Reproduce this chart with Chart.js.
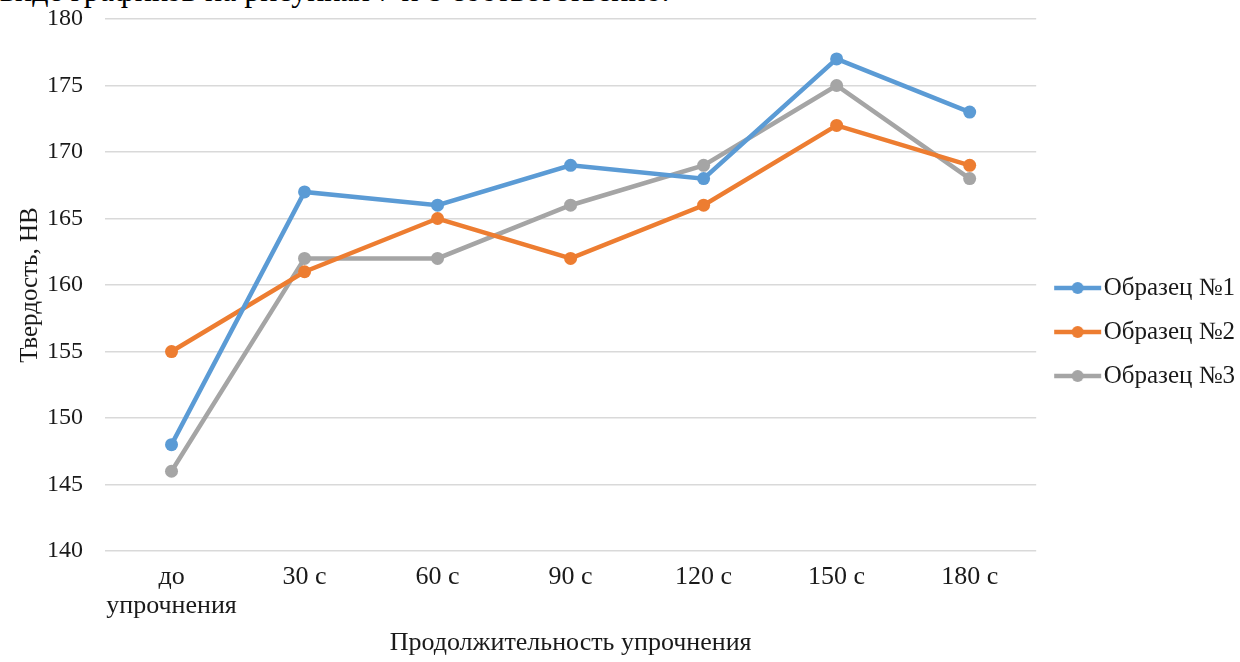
<!DOCTYPE html>
<html>
<head>
<meta charset="utf-8">
<script src="https://cdn.jsdelivr.net/npm/chart.js@4"></script>
<style>
  html, body { margin: 0; padding: 0; background: #fff; overflow: hidden; }
  #wrap { position: absolute; left: 0; top: 0; width: 1240px; height: 662px; }
  #cut { position: absolute; left: 0; top: -28px; font-family: 'Liberation Serif', serif; font-size: 32px; color: #000; white-space: nowrap; }
</style>
</head>
<body>
<div id="cut">виде графиков на рисунках 7 и 8 соответственно.</div>
<div id="wrap"><canvas id="chart"></canvas></div>
<script>
// Data
const categories = [['до', 'упрочнения'], '30 с', '60 с', '90 с', '120 с', '150 с', '180 с'];
const sample1 = [148, 167, 166, 169, 168, 177, 173];
const sample2 = [155, 161, 165, 162, 166, 172, 169];
const sample3 = [146, 162, 162, 166, 169, 175, 168];
const seriesNames = ['Образец №1', 'Образец №2', 'Образец №3'];
const colors = ['#5B9BD5', '#ED7D31', '#A5A5A5'];

Chart.defaults.font.family = "'Liberation Serif', 'Times New Roman', serif";
Chart.defaults.color = '#1a1a1a';

// legend marker: line with a dot, drawn a bit left of the box centre
function legendMarker(color) {
    const c = document.createElement('canvas');
    c.width = 60;
    c.height = 14;
    const ctx = c.getContext('2d');
    ctx.strokeStyle = color;
    ctx.lineWidth = 4.5;
    ctx.beginPath();
    ctx.moveTo(11, 7);
    ctx.lineTo(58, 7);
    ctx.stroke();
    ctx.fillStyle = color;
    ctx.beginPath();
    ctx.arc(34.5, 7, 6, 0, Math.PI * 2);
    ctx.fill();
    return c;
}

const seriesData = [sample1, sample2, sample3];
const datasets = seriesData.map((d, i) => ({
    label: seriesNames[i],
    data: d,
    borderColor: colors[i],
    backgroundColor: colors[i],
    borderWidth: 4.5,
    pointRadius: 6.5,
    pointHoverRadius: 6.5,
    pointBackgroundColor: colors[i],
    pointBorderWidth: 0,
    pointStyle: 'circle',
    tension: 0
}));

const markers = colors.map(legendMarker);

// nudge the legend up a little, like in the original
const legendShift = {
    id: 'legendShift',
    afterLayout(chart) {
        chart.legend.top -= 7;
        chart.legend.bottom -= 7;
    }
};

new Chart(document.getElementById('chart'), {
    type: 'line',
    data: { labels: categories, datasets: datasets },
    plugins: [legendShift],
    options: {
        responsive: true,
        maintainAspectRatio: false,
        animation: false,
        layout: { padding: { top: 19, right: -5, left: 15, bottom: 3 } },
        plugins: {
            tooltip: { enabled: false },
            legend: {
                position: 'right',
                align: 'center',
                labels: {
                    usePointStyle: true,
                    pointStyleWidth: 36,
                    padding: 19,
                    color: '#1a1a1a',
                    font: { size: 25 },
                    generateLabels: (chart) => chart.data.datasets.map((ds, i) => ({
                        text: ds.label,
                        pointStyle: markers[i],
                        fillStyle: colors[i],
                        strokeStyle: colors[i],
                        lineWidth: 0,
                        fontColor: '#1a1a1a',
                        datasetIndex: i,
                        hidden: false
                    }))
                }
            }
        },
        scales: {
            x: {
                offset: true,
                grid: { display: true, drawOnChartArea: false, drawTicks: true, tickLength: 9.5, tickColor: 'rgba(0,0,0,0)' },
                border: { display: false },
                ticks: { font: { size: 26, lineHeight: 1.12 }, padding: 2, maxRotation: 0, autoSkip: false, color: '#1a1a1a' },
                title: { display: true, text: 'Продолжительность упрочнения', font: { size: 26 }, color: '#1a1a1a', padding: { top: 5, bottom: 0 } }
            },
            y: {
                min: 140,
                max: 180,
                grid: { color: '#D9D9D9', lineWidth: 1.5, drawTicks: true, tickLength: 20, tickColor: 'rgba(0,0,0,0)' },
                border: { display: false },
                ticks: { stepSize: 5, font: { size: 24 }, padding: 2, color: '#1a1a1a' },
                title: { display: true, text: 'Твердость, HB', font: { size: 25 }, color: '#1a1a1a', padding: { top: 0, bottom: 0 } }
            }
        }
    }
});
</script>
</body>
</html>
